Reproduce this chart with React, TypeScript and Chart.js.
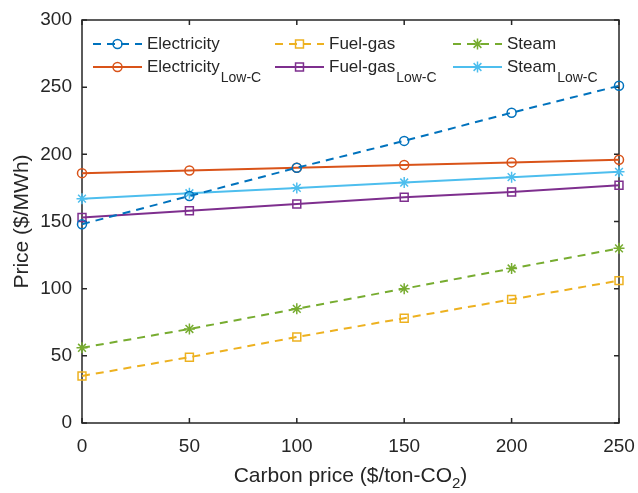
import React, { useEffect, useRef } from "react";
import { Chart, registerables } from "chart.js";

Chart.register(...registerables);

const carbonPrices = [0, 50, 100, 150, 200, 250];
const electricity = [148, 169, 190, 210, 231, 251];
const fuelGas = [35, 49, 64, 78, 92, 106];
const steam = [56, 70, 85, 100, 115, 130];
const electricityLowC = [186, 188, 190, 192, 194, 196];
const fuelGasLowC = [153, 158, 163, 168, 172, 177];
const steamLowC = [167, 171, 175, 179, 183, 187];

const seriesNames = ["Electricity", "Fuel-gas", "Steam", "Electricity", "Fuel-gas", "Steam"];
const seriesSubs = ["", "", "", "Low-C", "Low-C", "Low-C"];
const xTicks = [0, 50, 100, 150, 200, 250];
const yTicks = [0, 50, 100, 150, 200, 250, 300];

const FONT = "'Liberation Sans', Arial, Helvetica, sans-serif";
const AXIS_COLOR = "#262626";

const COLORS = ["#0072BD", "#EDB120", "#77AC30", "#D95319", "#7E2F8E", "#4DBEEE"];
const STYLES = ["circle", "rect", "star", "circle", "rect", "star"];
const DASHED = [true, true, true, false, false, false];
const RADII: Record<string, number> = { circle: 4.5, rect: 5.6, star: 5.5 };

function toPoints(values: number[]) {
  return values.map((v, i) => ({ x: carbonPrices[i], y: v }));
}

function drawMarker(ctx: CanvasRenderingContext2D, style: string, x: number, y: number, color: string) {
  const r = RADII[style];
  ctx.save();
  ctx.strokeStyle = color;
  ctx.lineWidth = 1.5;
  ctx.setLineDash([]);
  ctx.beginPath();
  if (style === "circle") {
    ctx.arc(x, y, r, 0, Math.PI * 2);
  } else if (style === "rect") {
    const s = r * Math.SQRT1_2;
    ctx.rect(x - s, y - s, 2 * s, 2 * s);
  } else {
    ctx.moveTo(x, y - r);
    ctx.lineTo(x, y + r);
    ctx.moveTo(x - r, y);
    ctx.lineTo(x + r, y);
    const d = r * Math.SQRT1_2;
    ctx.moveTo(x - d, y - d);
    ctx.lineTo(x + d, y + d);
    ctx.moveTo(x - d, y + d);
    ctx.lineTo(x + d, y - d);
  }
  ctx.stroke();
  ctx.restore();
}

const framePlugin = {
  id: "frame",
  beforeDatasetsDraw(chart: any) {
    const { ctx, chartArea, scales } = chart;
    const { left, right, top, bottom } = chartArea;
    ctx.save();
    ctx.strokeStyle = AXIS_COLOR;
    ctx.lineWidth = 1.5;
    ctx.strokeRect(left, top, right - left, bottom - top);
    const tl = 5;
    ctx.beginPath();
    xTicks.forEach((v) => {
      const px = scales.x.getPixelForValue(v);
      ctx.moveTo(px, bottom);
      ctx.lineTo(px, bottom - tl);
      ctx.moveTo(px, top);
      ctx.lineTo(px, top + tl);
    });
    yTicks.forEach((v) => {
      const py = scales.y.getPixelForValue(v);
      ctx.moveTo(left, py);
      ctx.lineTo(left + tl, py);
      ctx.moveTo(right, py);
      ctx.lineTo(right - tl, py);
    });
    ctx.stroke();
    ctx.restore();
  },
  afterDraw(chart: any) {
    const { ctx, chartArea } = chart;
    ctx.save();
    ctx.fillStyle = AXIS_COLOR;
    // Y title
    ctx.font = `21px ${FONT}`;
    ctx.textAlign = "center";
    ctx.textBaseline = "middle";
    ctx.save();
    ctx.translate(22, (chartArea.top + chartArea.bottom) / 2);
    ctx.rotate(-Math.PI / 2);
    ctx.fillText("Price ($/MWh)", 0, 0);
    ctx.restore();
    // X title with subscript
    const main = "Carbon price ($/ton-CO";
    const sub = "2";
    const tail = ")";
    ctx.font = `21px ${FONT}`;
    const wMain = ctx.measureText(main).width;
    const wTail = ctx.measureText(tail).width;
    ctx.font = `15px ${FONT}`;
    const wSub = ctx.measureText(sub).width;
    const total = wMain + wSub + wTail;
    const cx = (chartArea.left + chartArea.right) / 2;
    let x = cx - total / 2;
    const y = 476;
    ctx.textAlign = "left";
    ctx.font = `21px ${FONT}`;
    ctx.fillText(main, x, y);
    x += wMain;
    ctx.font = `15px ${FONT}`;
    ctx.fillText(sub, x, y + 8);
    x += wSub;
    ctx.font = `21px ${FONT}`;
    ctx.fillText(tail, x, y);

    // Legend
    const colX = [93, 275, 453];
    const rowY = [44, 67];
    const sampleLen = 49;
    chart.data.datasets.forEach((ds: any, i: number) => {
      const col = i % 3;
      const row = Math.floor(i / 3);
      const x0 = colX[col];
      const yy = rowY[row];
      ctx.save();
      ctx.strokeStyle = COLORS[i];
      ctx.lineWidth = 2;
      ctx.setLineDash(DASHED[i] ? [8, 6] : []);
      ctx.beginPath();
      ctx.moveTo(x0, yy);
      ctx.lineTo(x0 + sampleLen, yy);
      ctx.stroke();
      ctx.restore();
      drawMarker(ctx, STYLES[i], x0 + sampleLen / 2, yy, COLORS[i]);
      ctx.fillStyle = AXIS_COLOR;
      ctx.textAlign = "left";
      ctx.textBaseline = "middle";
      ctx.font = `17px ${FONT}`;
      const tx = x0 + sampleLen + 5;
      ctx.fillText(seriesNames[i], tx, yy);
      if (seriesSubs[i]) {
        const w = ctx.measureText(seriesNames[i]).width;
        ctx.font = `14px ${FONT}`;
        ctx.fillText(seriesSubs[i], tx + w + 1, yy + 11);
      }
    });
    ctx.restore();
  },
};

export default function App() {
  const canvasRef = useRef<HTMLCanvasElement | null>(null);

  useEffect(() => {
    const canvas = canvasRef.current;
    if (!canvas) return;
    const allSeries = [electricity, fuelGas, steam, electricityLowC, fuelGasLowC, steamLowC];
    const chart = new Chart(canvas, {
      type: "line",
      data: {
        datasets: allSeries.map((vals, i) => ({
          label: seriesSubs[i] ? `${seriesNames[i]} ${seriesSubs[i]}` : seriesNames[i],
          data: toPoints(vals),
          borderColor: COLORS[i],
          backgroundColor: "transparent",
          borderWidth: 2,
          borderDash: DASHED[i] ? [8, 6] : [],
          pointStyle: STYLES[i] as any,
          pointRadius: RADII[STYLES[i]],
          pointBorderWidth: 1.5,
          pointBorderColor: COLORS[i],
          pointBackgroundColor: "transparent",
          tension: 0,
          clip: false as any,
          fill: false,
        })),
      },
      options: {
        animation: false,
        responsive: false,
        maintainAspectRatio: false,
        layout: { padding: { top: 20, right: 19, left: 0, bottom: 0 } },
        plugins: {
          legend: { display: false },
          tooltip: { enabled: false },
        },
        scales: {
          x: {
            type: "linear",
            min: 0,
            max: 250,
            afterBuildTicks: (scale: any) => {
              scale.ticks = xTicks.map((v) => ({ value: v }));
            },
            afterFit: (scale: any) => {
              scale.height = 70;
              scale.paddingLeft = 0;
              scale.paddingRight = 0;
            },
            grid: { display: false, drawTicks: false },
            border: { display: false },
            ticks: {
              font: { family: FONT, size: 19 },
              color: AXIS_COLOR,
              padding: 12,
              maxRotation: 0,
            },
          },
          y: {
            type: "linear",
            min: 0,
            max: 300,
            afterBuildTicks: (scale: any) => {
              scale.ticks = yTicks.map((v) => ({ value: v }));
            },
            afterFit: (scale: any) => {
              scale.width = 82;
              scale.paddingTop = 0;
              scale.paddingBottom = 0;
            },
            grid: { display: false, drawTicks: false },
            border: { display: false },
            ticks: {
              font: { family: FONT, size: 19 },
              color: AXIS_COLOR,
              padding: 10,
            },
          },
        },
      },
      plugins: [framePlugin],
    });
    return () => chart.destroy();
  }, []);

  return (
    <div style={{ position: "fixed", left: 0, top: 0, width: 638, height: 493, background: "#fff" }}>
      <canvas ref={canvasRef} width={638} height={493} style={{ display: "block" }} />
    </div>
  );
}
